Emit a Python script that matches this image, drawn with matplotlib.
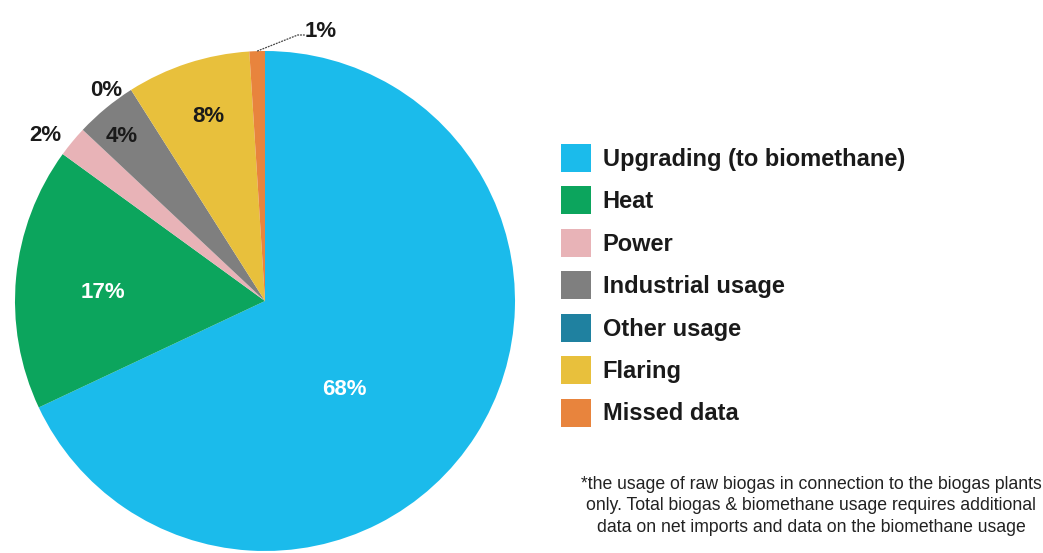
import numpy as np
import matplotlib
matplotlib.use("Agg")
import matplotlib.pyplot as plt

plt.rcParams["font.family"] = ["Liberation Sans", "DejaVu Sans"]

# Biogas usage shares (%)
categories = ["Upgrading (to biomethane)", "Heat", "Power", "Industrial usage",
              "Other usage", "Flaring", "Missed data"]
shares = [68, 17, 2, 4, 0, 8, 1]
pct_labels = ["68%", "17%", "2%", "4%", "0%", "8%", "1%"]

colors = ["#1bbbeb", "#0ca55d", "#e8b3b7", "#7f7f7f", "#1f81a0", "#e8c03c", "#e8843d"]
label_colors = ["white", "white", "#1a1a1a", "#1a1a1a", "#1a1a1a", "#1a1a1a", "#1a1a1a"]
# radial distance and angular shift (deg) of each percentage label
label_dist = [0.475, 0.65, 1.10, 0.875, 1.055, 0.77, 1.10]
label_shift = [-15.5, 2.5, 2.5, 1.5, 4.5, -1.0, -13.4]

footnote = ("*the usage of raw biogas in connection to the biogas plants\n"
            "only. Total biogas & biomethane usage requires additional\n"
            "data on net imports and data on the biomethane usage")

W, H = 1043, 553
fig = plt.figure(figsize=(W / 100, H / 100), dpi=100)
fig.patch.set_facecolor("white")

# pie axes: square box in pixels
cx, cy, r = 265, 301, 250
ax = fig.add_axes([(cx - r) / W, (H - cy - r) / H, 2 * r / W, 2 * r / H])
ax.axis("off")

wedges, _ = ax.pie(shares, colors=colors, startangle=90, counterclock=False,
                   radius=1, center=(0, 0), frame=False,
                   wedgeprops={"linewidth": 0})
ax.set_xlim(-1, 1)
ax.set_ylim(-1, 1)

for w, txt, col, d, s in zip(wedges, pct_labels, label_colors, label_dist, label_shift):
    mid = np.deg2rad((w.theta1 + w.theta2) / 2 + s)
    ax.text(d * np.cos(mid), d * np.sin(mid), txt, ha="center", va="center",
            fontsize=16, fontweight="bold", color=col)

# leader line for the small "Missed data" slice
w = wedges[-1]
a = np.deg2rad((w.theta1 + w.theta2) / 2)
x0, y0 = np.cos(a), np.sin(a)
ax.plot([x0, 0.131, 0.16], [y0, 1.064, 1.064], color="#444444", lw=0.9,
        ls=(0, (1.5, 0.8)), clip_on=False)

# legend
leg = fig.legend(wedges, categories, loc="upper left",
                 bbox_to_anchor=(561 / W, 1 - 144 / H), frameon=False,
                 fontsize=17, handlelength=1.27, handleheight=1.45,
                 handletextpad=0.5, labelspacing=0.61, borderpad=0,
                 borderaxespad=0)
for t in leg.get_texts():
    t.set_fontweight("bold")
    t.set_color("#1a1a1a")

fig.text(811 / W, 1 - 506 / H, footnote, ha="center", va="center",
         fontsize=12.7, color="#222222", linespacing=1.38)

fig.savefig("out.png", dpi=100, facecolor="white")
